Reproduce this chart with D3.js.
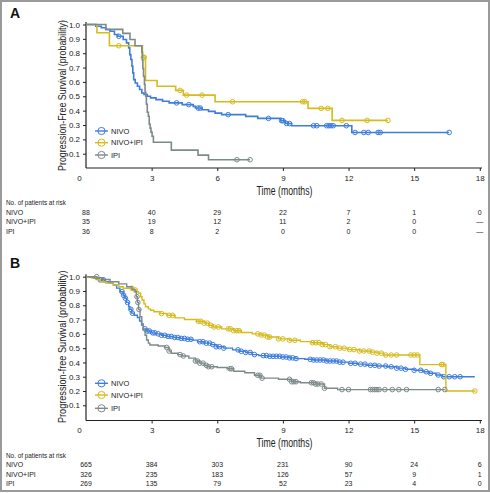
<!DOCTYPE html>
<html><head><meta charset="utf-8">
<script src="https://cdn.jsdelivr.net/npm/d3@7"></script>
<style>body{margin:0;background:#fff}svg{display:block}</style>
</head><body><svg id="c" width="490" height="493"></svg>
<script>
const seriesNames = ["NIVO", "NIVO+IPI", "IPI"];
const seriesColors = ["#3d7ddc", "#d5bb1c", "#7d8a8a"];
const xTicks = [0, 3, 6, 9, 12, 15, 18];
const yTicks = [0.1, 0.2, 0.3, 0.4, 0.5, 0.6, 0.7, 0.8, 0.9, 1.0];

// ---------- Panel A ----------
const nivoA_t = [0,0.45,0.7,0.9,1.1,1.3,1.45,1.7,1.85,1.95,2.0,2.05,2.1,2.14,2.18,2.25,2.35,2.45,2.55,2.65,2.8,2.95,3.2,3.5,3.8,4.4,4.9,5.0,5.3,5.6,5.9,6.2,7.3,7.85,8.9,9.12,9.4,12.15];
const nivoA_s = [1,0.988,0.977,0.965,0.953,0.93,0.918,0.895,0.872,0.837,0.79,0.756,0.71,0.663,0.616,0.593,0.57,0.547,0.523,0.512,0.5,0.489,0.477,0.465,0.454,0.442,0.43,0.418,0.406,0.395,0.383,0.372,0.36,0.346,0.33,0.31,0.295,0.248];
const nivoA_end = 16.6;
const nivoA_cens = [1.5,4.14,4.7,5.13,5.22,6.5,8.34,8.94,9.0,9.17,9.3,10.4,10.55,11.0,11.1,11.2,11.3,11.9,12.3,12.7,12.9,13.35,13.45,16.6];

const comboA_t = [0,0.5,1.07,2.58,2.72,3.25,4.1,4.45,5.9,10.15,11.25];
const comboA_s = [1,0.943,0.852,0.771,0.61,0.57,0.541,0.508,0.462,0.416,0.332];
const comboA_end = 13.8;
const comboA_cens = [1.5,2.62,2.66,4.3,4.6,5.3,6.7,9.9,10.0,10.75,11.05,11.7,12.85,13.8];

const ipiA_t = [0,0.91,1.68,2.01,2.24,2.55,2.58,2.6,2.63,2.67,2.7,2.73,2.76,2.8,2.85,2.89,2.93,2.97,3.02,3.08,3.9,5.12,5.6];
const ipiA_s = [1,0.966,0.938,0.896,0.852,0.806,0.75,0.694,0.64,0.583,0.528,0.5,0.444,0.389,0.361,0.306,0.278,0.25,0.222,0.18,0.125,0.09,0.058];
const ipiA_end = 7.5;
const ipiA_cens = [6.9,7.5];

const riskA_nivo = ["88","40","29","22","7","1","0"];
const riskA_combo = ["35","19","12","11","2","0","\u2014"];
const riskA_ipi = ["36","8","2","0","0","0","\u2014"];

// ---------- Panel B ----------
const nivoB_t = [0,0.2,0.35,0.6,0.85,1.05,1.25,1.4,1.55,1.7,1.78,1.85,1.95,2.0,2.09,2.2,2.35,2.45,2.54,2.62,2.75,2.95,3.2,3.45,3.7,4.0,4.3,4.6,4.85,5.1,5.4,5.7,5.95,6.3,6.7,7.0,7.3,7.6,7.9,8.3,8.9,9.3,9.6,10.0,10.4,11.0,11.5,12.0,12.4,12.8,13.3,13.75,14.2,14.6,15.0,15.4,15.7,16.0,16.3];
const nivoB_s = [1,0.995,0.988,0.978,0.965,0.955,0.942,0.92,0.895,0.87,0.849,0.82,0.79,0.772,0.745,0.73,0.715,0.69,0.662,0.635,0.62,0.607,0.6,0.59,0.582,0.575,0.568,0.562,0.556,0.545,0.535,0.525,0.51,0.5,0.488,0.478,0.47,0.455,0.448,0.443,0.438,0.432,0.427,0.422,0.417,0.41,0.402,0.394,0.388,0.38,0.375,0.37,0.36,0.352,0.345,0.335,0.324,0.312,0.3];
const nivoB_end = 17.77;
const nivoB_cens = [0.65,0.8,1.65,1.72,1.8,1.9,2.05,2.12,2.7,2.8,2.9,3.05,3.15,3.3,3.45,3.6,3.75,3.9,4.05,4.2,4.35,4.5,4.65,4.8,5.2,5.35,5.5,5.65,5.8,5.95,6.1,6.3,6.95,7.1,7.3,7.5,7.7,8.1,8.25,8.4,8.55,8.7,8.85,9.0,9.15,9.3,9.45,9.6,10.25,10.4,10.55,10.7,10.85,11.0,11.15,11.3,11.45,11.6,11.75,12.1,12.3,12.55,12.75,13.0,13.2,13.4,13.7,13.95,14.2,14.4,14.6,15.0,15.3,15.55,15.75,16.1,16.35,16.6,16.85,17.1];

const comboB_t = [0,0.25,0.45,0.65,0.9,1.25,1.5,1.7,2.16,2.3,2.4,2.5,2.56,2.65,2.72,2.85,2.95,3.1,3.38,3.7,4.07,4.5,5.06,5.4,5.6,5.82,6.2,6.75,7.1,7.6,8.0,8.3,8.79,9.3,9.8,10.3,10.8,11.15,11.5,12.0,12.5,13.0,13.3,13.6,15.26,16.45];
const comboB_s = [1,0.99,0.98,0.965,0.955,0.942,0.93,0.919,0.907,0.895,0.884,0.86,0.837,0.81,0.79,0.775,0.765,0.755,0.742,0.73,0.712,0.7,0.688,0.675,0.66,0.648,0.635,0.622,0.61,0.6,0.592,0.578,0.565,0.555,0.546,0.538,0.525,0.51,0.5,0.49,0.48,0.472,0.465,0.452,0.385,0.2];
const comboB_end = 17.8;
const comboB_cens = [2.1,2.25,3.45,3.8,3.95,5.13,5.25,5.4,5.55,5.7,5.85,6.05,6.5,6.6,6.75,6.9,7.0,7.85,8.0,8.15,8.3,8.4,8.8,9.0,9.3,9.55,10.35,10.5,10.65,10.8,10.95,11.15,11.4,11.6,11.8,12.05,12.25,12.5,12.7,12.95,13.1,13.3,13.5,13.7,13.95,14.2,14.85,15.0,15.15,16.25,16.32,17.77];

const ipiB_t = [0,0.5,0.8,1.1,1.5,1.86,2.1,2.24,2.3,2.35,2.4,2.47,2.55,2.62,2.7,2.77,2.85,2.92,3.3,3.6,3.8,3.9,4.2,4.4,4.7,5.0,5.2,5.4,5.55,6.0,6.45,6.75,7.26,7.7,8.0,8.8,9.4,9.8,10.5,10.9,11.5];
const ipiB_s = [1,0.993,0.98,0.965,0.95,0.93,0.91,0.895,0.86,0.82,0.77,0.72,0.67,0.627,0.59,0.557,0.535,0.522,0.515,0.505,0.48,0.464,0.455,0.445,0.43,0.41,0.395,0.38,0.37,0.365,0.356,0.338,0.328,0.31,0.29,0.282,0.265,0.258,0.249,0.219,0.21];
const ipiB_end = 16.4;
const ipiB_cens = [0.49,2.33,2.37,2.42,3.69,3.8,4.3,4.45,5.0,5.1,5.2,5.35,5.5,5.6,5.75,6.58,6.65,7.85,7.95,8.05,9.3,9.4,9.5,9.6,10.3,10.4,10.5,10.6,10.75,10.9,11.7,12.0,13.0,13.1,13.2,13.3,13.4,13.66,14.0,14.3,14.65,16.1,16.4];

const riskB_nivo = ["665","384","303","231","90","24","6"];
const riskB_combo = ["326","235","183","126","57","9","1"];
const riskB_ipi = ["269","135","79","52","23","4","0"];

// ---------- drawing ----------
const svg = d3.select("#c");
const FONT = "'Liberation Sans',Arial,sans-serif";
svg.append("rect").attr("x",1).attr("y",1).attr("width",488).attr("height",490)
  .attr("fill","#fff").attr("stroke","#9a9a9a").attr("stroke-width",2);

function stepValue(ts, ss, t){ let v = ss[0]; for (let i=0;i<ts.length;i++) if (ts[i] <= t) v = ss[i]; return v; }

// text squeezed horizontally to a target width (keeps real text)
function fitText(g, str, size, cx, cy, width, rotate, anchor){
  const outer = g.append("g");
  const t = outer.append("text").attr("font-family",FONT).attr("font-size",size).attr("fill","#222")
    .attr("text-anchor",anchor||"middle").text(str);
  const w = t.node().getComputedTextLength();
  const k = width / w;
  outer.attr("transform",`translate(${cx},${cy})${rotate?" rotate(-90)":""} scale(${k},1)`);
  return outer;
}

function drawPanel(p){
  const x = d3.scaleLinear().domain([0,18]).range([86,479.8]);
  const y = d3.scaleLinear().domain([0,1]).range([p.y0, p.y1]);
  const g = svg.append("g");

  g.append("text").attr("x",10).attr("y",p.letterY).attr("font-family",FONT)
    .attr("font-weight","bold").attr("font-size",14).attr("fill","#111").text(p.letter);

  // x axis
  const xa = g.append("g").attr("transform",`translate(0,${p.axisY})`)
    .call(d3.axisBottom(x).tickValues(xTicks).tickSize(3).tickSizeOuter(0).tickPadding(4).tickFormat(d3.format("d")));
  xa.select(".domain").attr("stroke","#222").attr("stroke-width",1.2).attr("d",`M86,0H482`);
  xa.selectAll(".tick line").attr("stroke","#222");
  xa.selectAll(".tick text").attr("font-family",FONT).attr("font-size",8).attr("fill","#222");
  xa.selectAll(".tick").filter(d=>d===0).select("text").attr("x",-7);
  xa.selectAll(".tick").filter(d=>d===0).select("line").remove();

  // y axis
  const ya = g.append("g").attr("transform","translate(86,0)")
    .call(d3.axisLeft(y).tickValues(yTicks).tickSize(3).tickSizeOuter(0).tickPadding(3).tickFormat(d3.format(".1f")));
  ya.select(".domain").attr("stroke","#222").attr("stroke-width",1.2).attr("d",`M0,${p.axisY}V${p.y1-2.5}`);
  ya.selectAll(".tick line").attr("stroke","#222");
  ya.selectAll(".tick text").attr("font-family",FONT).attr("font-size",8).attr("fill","#222");

  fitText(g, p.yTitle, 10.5, 65.5, p.titleCY, p.titleLen, true, "middle");
  fitText(g, "Time (months)", 12, 284.5, p.timeY, 56, false, "middle");

  // curves
  const line = d3.line().x(d=>x(d[0])).y(d=>y(d[1])).curve(d3.curveStepAfter);
  p.series.forEach((s,i)=>{
    const pts = s.t.map((t,k)=>[t, s.s[k]]);
    pts.push([s.end, s.s[s.s.length-1]]);
    g.append("path").attr("d",line(pts)).attr("fill","none").attr("stroke",seriesColors[i]).attr("stroke-width",p.lw);
    g.selectAll(null).data(s.cens).join("circle")
      .attr("cx",d=>x(d)).attr("cy",d=>y(stepValue(s.t,s.s,d))).attr("r",2.3)
      .attr("fill","none").attr("stroke",seriesColors[i]).attr("stroke-width",1);
  });

  // legend
  seriesNames.forEach((n,i)=>{
    const ly = p.legendY[i];
    g.append("line").attr("x1",95).attr("x2",108).attr("y1",ly).attr("y2",ly).attr("stroke",seriesColors[i]).attr("stroke-width",1.4);
    g.append("circle").attr("cx",101.5).attr("cy",ly).attr("r",3.6).attr("fill","none").attr("stroke",seriesColors[i]).attr("stroke-width",1);
    g.append("text").attr("x",111).attr("y",ly+2.5).attr("font-family",FONT).attr("font-size",7.5).attr("fill","#222").text(n);
  });

  // risk table
  fitText(g, "No. of patients at risk", 7, 6, p.riskY[0]+2.5, 60, false, "start");
  p.risk.forEach((row,i)=>{
    const ry = p.riskY[i+1]+2.5;
    g.append("text").attr("x",6).attr("y",ry).attr("font-family",FONT).attr("font-size",7).attr("fill","#222").text(seriesNames[i]);
    g.selectAll(null).data(row).join("text").attr("x",(d,k)=>x(xTicks[k])).attr("y",ry)
      .attr("text-anchor","middle").attr("font-family",FONT).attr("font-size",7).attr("fill","#222").text(d=>d);
  });
}

drawPanel({
  letter:"A", letterY:18, y0:168.06, y1:24.5, axisY:168,
  yTitle:"Progression-Free Survival (probability)", titleCY:95.5, titleLen:151, timeY:194.5, lw:1.6,
  legendY:[131,142.7,155], riskY:[202.7,212.3,221.9,231.3],
  series:[
    {t:nivoA_t,s:nivoA_s,end:nivoA_end,cens:nivoA_cens},
    {t:comboA_t,s:comboA_s,end:comboA_end,cens:comboA_cens},
    {t:ipiA_t,s:ipiA_s,end:ipiA_end,cens:ipiA_cens}],
  risk:[riskA_nivo,riskA_combo,riskA_ipi]
});
drawPanel({
  letter:"B", letterY:268, y0:419.6, y1:276.7, axisY:420.5,
  yTitle:"Progression-free Survival (probability)", titleCY:346.7, titleLen:153, timeY:446.7, lw:1.4,
  legendY:[383.3,395,408.3], riskY:[455,464.4,474,483.4],
  series:[
    {t:nivoB_t,s:nivoB_s,end:nivoB_end,cens:nivoB_cens},
    {t:comboB_t,s:comboB_s,end:comboB_end,cens:comboB_cens},
    {t:ipiB_t,s:ipiB_s,end:ipiB_end,cens:ipiB_cens}],
  risk:[riskB_nivo,riskB_combo,riskB_ipi]
});
</script></body></html>
